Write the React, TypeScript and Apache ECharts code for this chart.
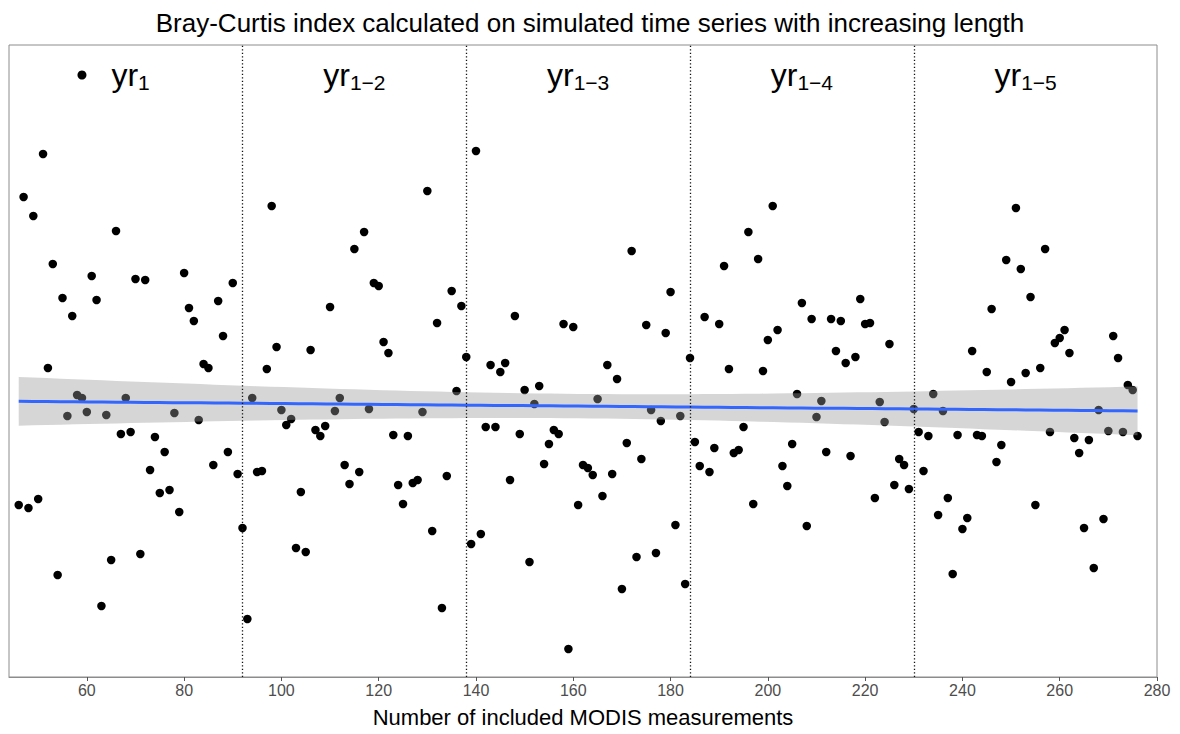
import React, { useEffect, useRef } from "react";
import * as echarts from "echarts";

// Number of included MODIS measurements starts at 46 and grows by one per point
const firstCount = 46;

// Bray-Curtis index (relative units), one array per period
const yr1Values = [172, 480, 169, 461, 178, 523, 309, 413, 102, 379, 261, 361, 282, 279, 265, 401, 377, 71, 262, 117, 446, 243, 279, 245, 398, 123, 397, 207, 240, 184, 225, 187, 264, 165, 404, 369, 356, 257, 313, 309, 212, 376, 341, 225, 394, 203, 149];
const yr2Values = [58, 279, 205, 206, 308, 471, 330, 267, 252, 258, 129, 185, 125, 327, 247, 241, 251, 370, 266, 279, 212, 193, 428, 205, 445, 268, 394, 391, 335, 324, 242, 192, 173, 241, 194, 197, 265, 486, 146, 354, 69, 201, 386, 286, 371, 320];
const yr3Values = [133, 526, 143, 250, 312, 250, 305, 314, 197, 361, 243, 287, 115, 273, 291, 213, 233, 247, 243, 353, 28, 350, 172, 212, 209, 202, 278, 181, 312, 203, 298, 88, 234, 426, 120, 218, 352, 267, 124, 256, 344, 385, 152, 261, 93, 319];
const yr4Values = [235, 211, 360, 205, 229, 353, 411, 308, 224, 227, 250, 445, 173, 418, 306, 337, 471, 347, 211, 191, 233, 283, 374, 151, 358, 260, 276, 225, 358, 326, 356, 314, 221, 320, 378, 353, 354, 179, 275, 255, 333, 192, 218, 212, 188, 268];
const yr5Values = [245, 206, 241, 283, 162, 266, 179, 103, 242, 148, 159, 326, 242, 241, 305, 368, 215, 232, 417, 295, 469, 408, 304, 380, 172, 309, 428, 245, 334, 339, 347, 324, 239, 224, 149, 237, 109, 267, 158, 246, 341, 319, 245, 292, 287, 241];

const periodBoundaries = [92, 138, 184, 230];
const periodSubscripts = ["1", "1\u22122", "1\u22123", "1\u22124", "1\u22125"];
const xTickValues = [60, 80, 100, 120, 140, 160, 180, 200, 220, 240, 260, 280];

const X_MIN = 44;
const X_MAX = 280;
const Y_MIN = 0;
const Y_MAX = 632;
const LABEL_Y = 602;
const T_975 = 1.9704; // t quantile, df = n - 2

const FONT = "'Liberation Sans', Arial, sans-serif";

export default function App() {
  const ref = useRef<HTMLDivElement>(null);

  useEffect(() => {
    if (!ref.current) return;
    const chart = echarts.init(ref.current, null, { renderer: "svg" });

    const allY = [...yr1Values, ...yr2Values, ...yr3Values, ...yr4Values, ...yr5Values];
    const points = allY.map((y, i) => [firstCount + i, y]);

    // ordinary least squares fit with 95% confidence band (like geom_smooth(method = "lm"))
    const n = points.length;
    const xbar = points.reduce((s, p) => s + p[0], 0) / n;
    const ybar = points.reduce((s, p) => s + p[1], 0) / n;
    let sxx = 0;
    let sxy = 0;
    points.forEach(([x, y]) => {
      sxx += (x - xbar) * (x - xbar);
      sxy += (x - xbar) * (y - ybar);
    });
    const slope = sxy / sxx;
    const intercept = ybar - slope * xbar;
    let sse = 0;
    points.forEach(([x, y]) => {
      const r = y - (intercept + slope * x);
      sse += r * r;
    });
    const s = Math.sqrt(sse / (n - 2));
    const xFirst = points[0][0];
    const xLast = points[n - 1][0];
    const steps = 80;
    const fitLine: number[][] = [];
    const upper: number[][] = [];
    const lower: number[][] = [];
    for (let k = 0; k <= steps; k++) {
      const x = xFirst + ((xLast - xFirst) * k) / steps;
      const yhat = intercept + slope * x;
      const se = s * Math.sqrt(1 / n + ((x - xbar) * (x - xbar)) / sxx);
      fitLine.push([x, yhat]);
      upper.push([x, yhat + T_975 * se]);
      lower.push([x, yhat - T_975 * se]);
    }

    const edges = [xFirst, ...periodBoundaries, xLast];
    const labelData = periodSubscripts.map((sub, i) => ({
      value: [(edges[i] + edges[i + 1]) / 2, LABEL_Y],
      sub,
    }));

    chart.setOption({
      animation: false,
      backgroundColor: "#ffffff",
      title: {
        text: "Bray-Curtis index calculated on simulated time series with increasing length",
        left: "center",
        top: 5,
        textStyle: { fontFamily: FONT, fontSize: 26, fontWeight: "normal", color: "#000" },
      },
      grid: {
        left: 9,
        right: 23,
        top: 45,
        bottom: 57,
        show: true,
        borderColor: "#8c8c8c",
        borderWidth: 1,
        backgroundColor: "transparent",
      },
      xAxis: {
        type: "value",
        min: X_MIN,
        max: X_MAX,
        name: "Number of included MODIS measurements",
        nameLocation: "middle",
        nameGap: 29,
        nameTextStyle: { fontFamily: FONT, fontSize: 22, color: "#000" },
        axisLine: { show: true, onZero: false, lineStyle: { color: "#8c8c8c", width: 1 } },
        axisTick: { show: true, length: 4, customValues: xTickValues, lineStyle: { color: "#555" } },
        axisLabel: {
          show: true,
          customValues: xTickValues,
          fontFamily: FONT,
          fontSize: 16,
          color: "#4d4d4d",
          margin: 5,
          showMaxLabel: true,
        },
        splitLine: { show: false },
      },
      yAxis: {
        type: "value",
        min: Y_MIN,
        max: Y_MAX,
        axisLine: { show: false },
        axisTick: { show: false },
        axisLabel: { show: false },
        splitLine: { show: false },
      },
      series: [
        {
          name: "points",
          type: "scatter",
          data: points,
          symbol: "circle",
          symbolSize: 8.5,
          itemStyle: { color: "#000", opacity: 1 },
          z: 2,
          silent: true,
        },
        {
          name: "band",
          type: "custom",
          data: [fitLine[0]],
          renderItem: (_params: any, api: any) => {
            const pts: number[][] = [];
            upper.forEach((p) => pts.push(api.coord(p)));
            for (let k = lower.length - 1; k >= 0; k--) pts.push(api.coord(lower[k]));
            return {
              type: "polygon",
              shape: { points: pts },
              style: { fill: "rgba(153,153,153,0.4)", stroke: "none" },
            };
          },
          z: 3,
          silent: true,
        },
        {
          name: "fit",
          type: "line",
          data: fitLine,
          showSymbol: false,
          lineStyle: { color: "#3366FF", width: 3 },
          z: 4,
          silent: true,
          markLine: {
            silent: true,
            symbol: "none",
            label: { show: false },
            lineStyle: { color: "#111", width: 1.3, type: [1.3, 2.2] },
            data: periodBoundaries.map((b) => ({ xAxis: b })),
          },
        },
        {
          name: "legendKey",
          type: "scatter",
          data: [[(edges[0] + edges[1]) / 2 - 10, LABEL_Y]],
          symbol: "circle",
          symbolSize: 9,
          itemStyle: { color: "#000", opacity: 1 },
          z: 5,
          silent: true,
        },
        {
          name: "periods",
          type: "scatter",
          data: labelData,
          symbolSize: 0,
          itemStyle: { opacity: 1 },
          z: 5,
          silent: true,
          label: {
            show: true,
            position: "inside",
            opacity: 1,
            formatter: (p: any) => `{base|yr}{sub|${p.data.sub}}`,
            rich: {
              base: { fontFamily: FONT, fontSize: 32, color: "#000", lineHeight: 36, verticalAlign: "middle" },
              sub: { fontFamily: FONT, fontSize: 21, color: "#000", lineHeight: 36, verticalAlign: "bottom" },
            },
          },
        },
      ],
    });

    return () => chart.dispose();
  }, []);

  return <div ref={ref} style={{ position: "fixed", left: 0, top: 0, width: 1180, height: 734 }} />;
}
